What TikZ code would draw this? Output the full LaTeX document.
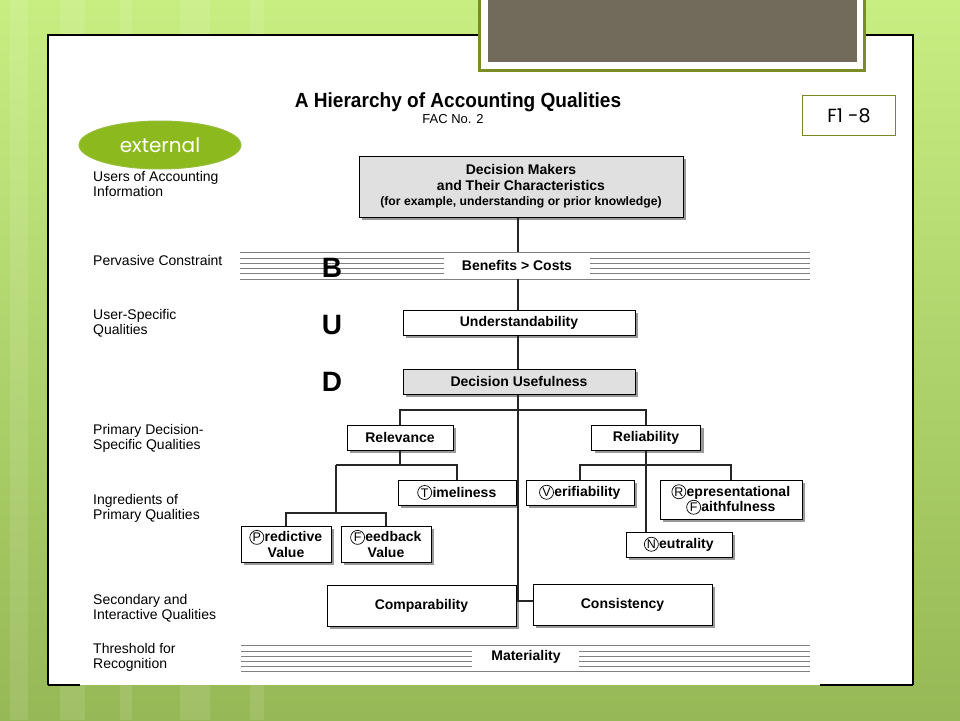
\documentclass[tikz,border=0pt]{standalone}
\usepackage{fontspec}
\setmainfont{Liberation Sans}
\newfontfamily\gothic{Poppins}
\newfontfamily\titlef[FakeStretch=0.93]{Liberation Sans}
\usetikzlibrary{shadows,shapes.geometric}
\definecolor{bgtop}{RGB}{200,238,130}
\definecolor{bgbot}{RGB}{150,184,86}
\definecolor{olive}{RGB}{122,140,34}
\definecolor{brownish}{RGB}{114,106,90}
\definecolor{oliveb}{RGB}{122,135,30}
\definecolor{ellbd}{RGB}{150,190,60}
\definecolor{ellfill}{RGB}{140,186,30}
\newcommand{\cl}[1]{\rlap{\pgfpicture\pgfsetbaseline{0pt}\pgfsetlinewidth{0.7pt}\pgfpathcircle{\pgfpoint{7pt}{4.6pt}}{7pt}\pgfusepathqstroke\endpgfpicture}\hbox to 14pt{\hss\mdseries\fontsize{12.5}{14}\selectfont#1\hss}\kern0.8pt}
\begin{document}
\begin{tikzpicture}[x=1pt,y=-1pt,
  box/.style={draw=black,line width=1pt,fill=white,inner sep=0pt,align=center,
    font=\bfseries\fontsize{14}{15.5}\selectfont,
    drop shadow={shadow xshift=3pt,shadow yshift=-3pt,fill=black!40,opacity=1}},
  graybox/.style={box,fill=black!12},
  conn/.style={line width=1.3pt,draw=black!85},
  lbl/.style={anchor=north west,align=left,inner sep=0pt,font=\fontsize{14}{15.5}\selectfont},
  bigl/.style={font=\bfseries\fontsize{28}{30}\selectfont,inner sep=0pt},
  band/.style={draw=black!50,line width=0.9pt},
  bandtext/.style={font=\bfseries\fontsize{14}{15}\selectfont,inner sep=0pt}]
\useasboundingbox (0,0) rectangle (960,720);
% background
\shade[top color=bgtop,bottom color=bgbot] (0,0) rectangle (960,720);
\foreach \xx/\ww in {10/18,60/25,120/12,180/30,250/14}{
  \fill[white,opacity=0.10] (\xx,0) rectangle (\xx+\ww,720);}
% white panel
\fill[white] (48,35) rectangle (913,685);
\draw[black,line width=1.3pt] (48,685) -- (48,35) -- (913,35) -- (913,685);
\draw[black,line width=1.3pt] (48,685) -- (80,685) (820,685) -- (913,685);
% top frame
\fill[olive] (478,-2) rectangle (866,72);
\fill[white] (481,-2) rectangle (863,69);
\fill[brownish] (488,-2) rectangle (857,62);
% F1-8
\node[draw=oliveb,line width=1.8pt,fill=white,minimum width=93pt,minimum height=40pt,inner sep=0pt,font=\gothic\fontsize{19}{20}\selectfont] (f18) at (849,115.5) {F1 -8};
% external ellipse
\node[ellipse,draw=ellbd,line width=1pt,fill=ellfill,minimum width=162pt,minimum height=48pt,inner sep=0pt,text=white,font=\gothic\fontsize{20}{22}\selectfont] (ext) at (160,145) {external};
% title
\node[font=\titlef\bfseries\fontsize{20.5}{22}\selectfont,inner sep=0pt] (title) at (458,102) {A Hierarchy of Accounting Qualities};
\node[font=\fontsize{13}{14}\selectfont,inner sep=0pt] (fac) at (453,119) {FAC No. 2};
% left labels
\node[lbl] (l1) at (93,171) {Users of Accounting\\Information};
\node[lbl] (l2) at (93,255) {Pervasive Constraint};
\node[lbl] (l3) at (93,309) {User-Specific\\Qualities};
\node[lbl] (l4) at (93,424) {Primary Decision-\\Specific Qualities};
\node[lbl] (l5) at (93,494) {Ingredients of\\Primary Qualities};
\node[lbl] (l6) at (93,594) {Secondary and\\Interactive Qualities};
\node[lbl] (l7) at (93,643) {Threshold for\\Recognition};
% bands
\foreach \yy in {252,279}{\draw[band] (240,\yy) -- (810,\yy);}
\foreach \yy in {258,263,268,273}{\draw[band] (240,\yy) -- (444,\yy) (590,\yy) -- (810,\yy);}
\foreach \yy in {645,671}{\draw[band] (241,\yy) -- (810,\yy);}
\foreach \yy in {651,656,661,666}{\draw[band] (241,\yy) -- (472,\yy) (579,\yy) -- (810,\yy);}
% big letters
\node[bigl] (B) at (332,268) {B};
\node[bigl] (U) at (332,325) {U};
\node[bigl] (D) at (332,382) {D};
% boxes
\node[graybox,minimum width=324pt,minimum height=61pt] (dm) at (521,186.5) {Decision Makers\\and Their Characteristics\\{\fontsize{12.2}{15.5}\selectfont(for example, understanding or prior knowledge)}};
\node[bandtext] (bc) at (517,265) {Benefits > Costs};
\node[box,minimum width=232pt,minimum height=25pt] (und) at (519,322.5) {Understandability};
\node[graybox,minimum width=232pt,minimum height=25pt] (du) at (519,381.5) {Decision Usefulness};
\node[box,minimum width=106pt,minimum height=25pt] (rel) at (400,437.5) {Relevance};
\node[box,minimum width=109pt,minimum height=25pt] (rlb) at (646,437.5) {Reliability};
\node[box,minimum width=118pt,minimum height=25pt] (tim) at (457,492.5) {\cl{T}imeliness};
\node[box,minimum width=90pt,minimum height=36pt] (pv) at (286,544) {\cl{P}redictive\\Value};
\node[box,minimum width=90pt,minimum height=36pt] (fv) at (386,544) {\cl{F}eedback\\Value};
\node[box,minimum width=108pt,minimum height=25pt] (ver) at (580,492.5) {\cl{V}erifiability};
\node[box,minimum width=142pt,minimum height=39pt] (rf) at (731,499.5) {\cl{R}epresentational\\\cl{F}aithfulness};
\node[box,minimum width=106pt,minimum height=25pt] (neu) at (679,544.5) {\cl{N}eutrality};
\node[box,minimum width=189pt,minimum height=41pt] (cmp) at (421.5,605.5) {Comparability};
\node[box,minimum width=179pt,minimum height=41pt] (cns) at (622.5,604.5) {Consistency};
\node[bandtext] (mat) at (526,657) {Materiality};
% connectors
\coordinate (jc) at (518,601);
\coordinate (btop) at (518,252);
\coordinate (bbot) at (518,279);
\coordinate (dj) at (518,410);
\coordinate (rj) at (400,465);
\coordinate (pj) at (336,513);
\coordinate (lj) at (646,465);
\draw[conn] (dm.south -| jc) -- (btop);
\draw[conn] (bbot) -- (und.north -| jc);
\draw[conn] (und.south -| jc) -- (du.north -| jc);
\draw[conn] (du.south -| jc) -- (jc);
\draw[conn] (cmp.east |- jc) -- (cns.west |- jc);
\draw[conn] (rel.north) |- (dj) -| (rlb.north);
\draw[conn] (rel.south) -- (rj);
\draw[conn] (pj |- rj) -| (tim.north);
\draw[conn] (pj |- rj) -- (pj);
\draw[conn] (pv.north) |- (pj) -| (fv.north);
\draw[conn] (rlb.south) -- (rlb.south |- neu.north);
\draw[conn] (ver.north) |- (lj) -| (rf.north);
\end{tikzpicture}
\end{document}
